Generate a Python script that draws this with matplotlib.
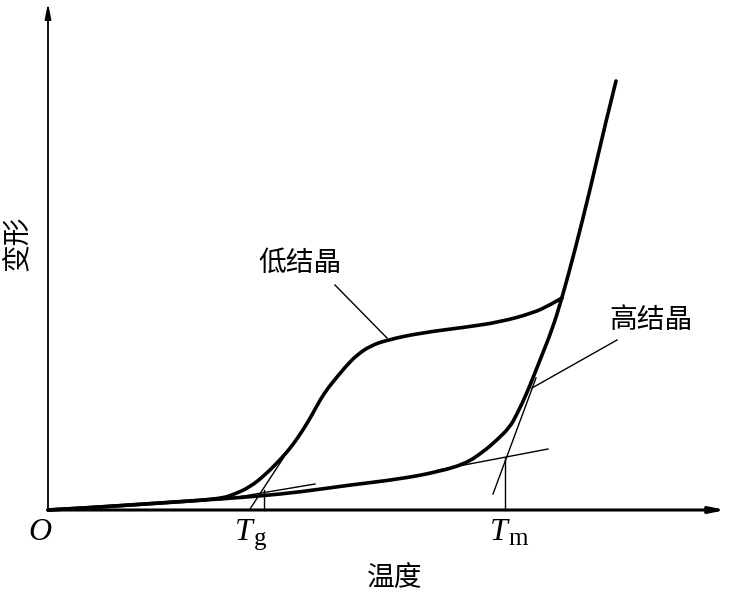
import matplotlib
matplotlib.use("Agg")
import matplotlib.pyplot as plt
from matplotlib.path import Path
from matplotlib.patches import PathPatch

plt.rcParams['font.family'] = ['Noto Sans CJK SC', 'DejaVu Sans']

# Origin of the chart in pixel space of the reference: (48, 510); data = (px-48, 510-py)
# High-crystallinity curve (temperature, deformation)
high_T = [0, 52, 112, 172, 212, 252, 302, 352, 389, 417, 435, 449, 462, 469, 479, 492, 504, 514, 527, 542, 557, 568]
high_D = [0, 3, 7, 11, 14, 18, 25, 31, 38, 46, 58, 70, 83, 96, 117, 150, 180, 212, 260, 320, 385, 429]

# Low-crystallinity curve
low_T = [0, 52, 112, 172, 187, 202, 217, 232, 244, 255, 264, 272, 280, 289, 299, 309, 322, 339, 372, 419, 452, 485, 502, 514]
low_D = [0, 3, 7, 11, 16, 23, 35, 50, 64, 80, 95, 110, 122, 133, 145, 155, 164, 170, 177, 183, 188, 197, 205, 212]

# Tangent construction lines at Tg and Tm
tg_flat_T, tg_flat_D = [172, 267], [10, 26]
tg_steep_T, tg_steep_D = [202, 236], [1, 53]
tm_flat_T, tm_flat_D = [390, 500], [40, 61]
tm_steep_T, tm_steep_D = [445, 488], [16, 132]
Tg_x, Tg_top = 216, 20
Tm_x, Tm_top = 457, 52

# Leader lines for the labels
low_leader_T, low_leader_D = [287, 339], [225, 172]
high_leader_T, high_leader_D = [569, 484], [170, 122]

labels = {"low": "低结晶", "high": "高结晶", "x": "温度", "y": "变形"}

fig = plt.figure(figsize=(7.3, 5.92), dpi=100)
ax = fig.add_axes([0, 0, 1, 1])
ax.set_xlim(-48, 682)
ax.set_ylim(-82, 510)
ax.axis('off')


def smooth_curve(xs, ys, **kw):
    """Quadratic Bezier path using the points as control points."""
    pts = list(zip(xs, ys))
    verts = [pts[0]]
    codes = [Path.MOVETO]
    verts.append(((pts[0][0] + pts[1][0]) / 2, (pts[0][1] + pts[1][1]) / 2))
    codes.append(Path.LINETO)
    for i in range(1, len(pts) - 1):
        nxt = pts[i + 1] if i + 1 == len(pts) - 1 else ((pts[i][0] + pts[i + 1][0]) / 2,
                                                         (pts[i][1] + pts[i + 1][1]) / 2)
        verts += [pts[i], nxt]
        codes += [Path.CURVE3, Path.CURVE3]
    ax.add_patch(PathPatch(Path(verts, codes), fill=False, **kw))


thick = dict(edgecolor='black', lw=2.6, capstyle='round', joinstyle='round')
thin = dict(color='black', lw=1.0)

smooth_curve(high_T, high_D, **thick)
smooth_curve(low_T, low_D, **thick)

ax.plot(tg_flat_T, tg_flat_D, **thin)
ax.plot(tg_steep_T, tg_steep_D, **thin)
ax.plot(tm_flat_T, tm_flat_D, **thin)
ax.plot(tm_steep_T, tm_steep_D, **thin)
ax.plot([Tg_x, Tg_x], [0, Tg_top], **thin)
ax.plot([Tm_x, Tm_x], [0, Tm_top], **thin)
ax.plot(low_leader_T, low_leader_D, **thin)
ax.plot(high_leader_T, high_leader_D, **thin)

# Axes with arrows
ax.annotate('', xy=(678, 0), xytext=(0, 0),
            arrowprops=dict(arrowstyle='-|>,head_length=0.9,head_width=0.18', lw=2.2, color='black',
                            shrinkA=0, shrinkB=0))
ax.annotate('', xy=(0, 507), xytext=(0, 0),
            arrowprops=dict(arrowstyle='-|>,head_length=0.9,head_width=0.18', lw=1.3, color='black',
                            shrinkA=0, shrinkB=0))

serif = ['Liberation Serif', 'DejaVu Serif']
ax.text(-8, -23, 'O', fontsize=23, style='italic', family=serif, ha='center', va='center')
ax.text(196, -23, 'T', fontsize=23, style='italic', family=serif, ha='center', va='center')
ax.text(212, -29, 'g', fontsize=18, family=serif, ha='center', va='center')
ax.text(451, -23, 'T', fontsize=23, style='italic', family=serif, ha='center', va='center')
ax.text(470, -29, 'm', fontsize=18, family=serif, ha='center', va='center')

ax.text(347, -68, labels["x"], fontsize=20, ha='center', va='center')
ax.text(-30, 267, labels["y"], fontsize=20, ha='center', va='center', rotation=90)
ax.text(252, 247, labels["low"], fontsize=20, ha='center', va='center')
ax.text(603, 190, labels["high"], fontsize=20, ha='center', va='center')

fig.savefig('out.png', dpi=100)
